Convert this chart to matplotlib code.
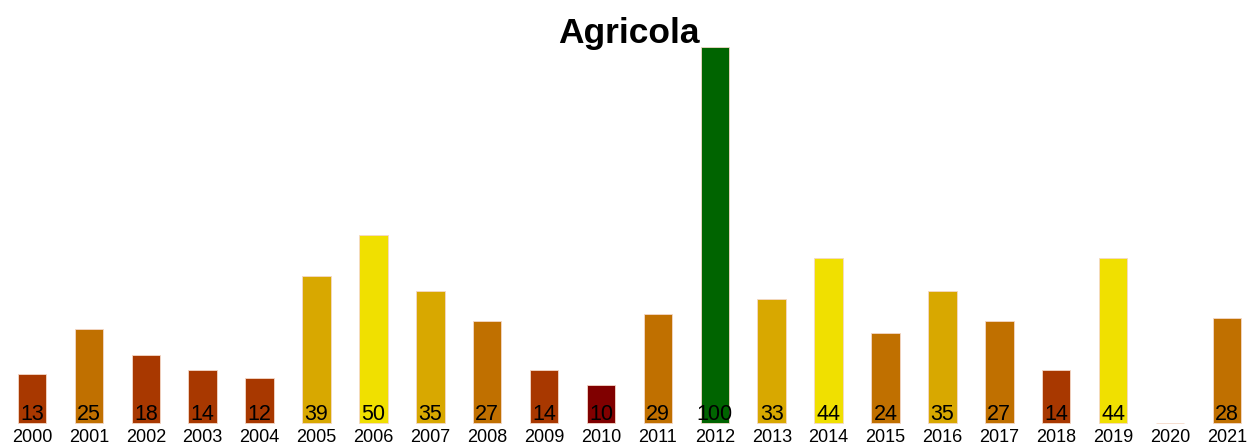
import numpy as np
import matplotlib.pyplot as plt

plt.rcParams['font.family'] = ['Liberation Sans', 'DejaVu Sans']

# data
years = [str(y) for y in range(2000, 2022)]
values = [13, 25, 18, 14, 12, 39, 50, 35, 27, 14, 10, 29, 100, 33, 44, 24, 35, 27, 14, 44, None, 28]
colors = ["#A83800", "#C07000", "#A83800", "#A83800", "#A83800", "#D8A800", "#F0E000",
          "#D8A800", "#C07000", "#A83800", "#800000", "#C07000", "#006400", "#D8A800",
          "#F0E000", "#C07000", "#D8A800", "#C07000", "#A83800", "#F0E000", "#FFFFFF", "#C07000"]

W, H = 1247, 446
fig = plt.figure(figsize=(W / 100, H / 100), dpi=100)
ax = fig.add_axes([0, 0, 1, 1])

x = np.arange(len(years))
heights = [v if v is not None else 0 for v in values]
ax.bar(x, heights, width=0.5, color=colors, edgecolor="#F4D8C8", linewidth=0.6)

for xi, v, yr in zip(x, values, years):
    if v is not None:
        ax.annotate(str(v), (xi, 0), xytext=(0, 2.2), textcoords="offset points",
                    ha="center", va="baseline", fontsize=15.5, color="black")
    ax.annotate(yr, (xi, 0), xytext=(0, -13.7), textcoords="offset points",
                ha="center", va="baseline", fontsize=13, color="black")

# pixel mapping: x=0 at 32px, 56.9 px per bar; y=0 at 423px, 3.76 px per unit
px_x, px_y = 56.9, 3.76
ax.set_xlim(-32 / px_x, (W - 32) / px_x)
ax.set_ylim(-(H - 423) / px_y, 100 + 47 / px_y)
ax.axis("off")

fig.text(629 / W, 1 - 43 / H, "Agricola", ha="center", va="baseline",
         fontsize=25.5, fontweight="bold")

fig.savefig("out.png", dpi=100)
